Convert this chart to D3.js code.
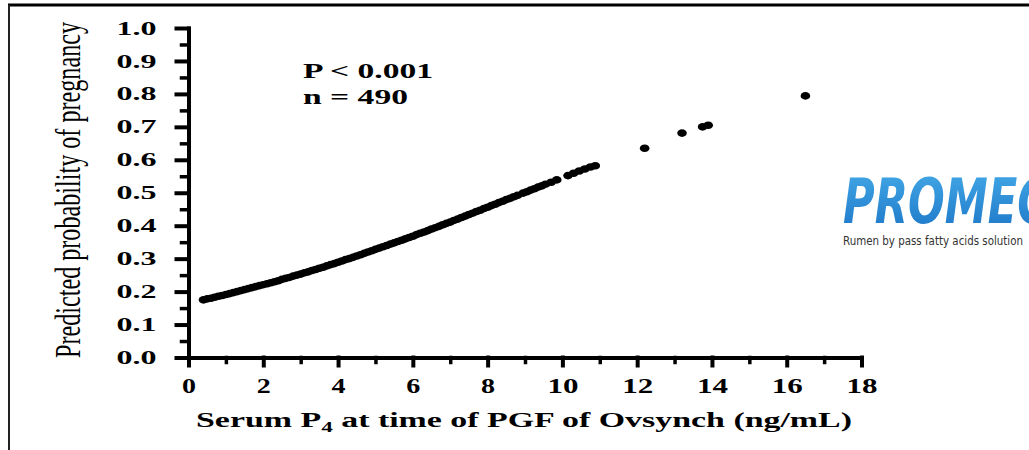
<!DOCTYPE html>
<html>
<head>
<meta charset="utf-8">
<script src="https://cdn.jsdelivr.net/npm/d3@7"></script>
<style>
  body { margin: 0; background: #fff; }
  svg { display: block; }
  .serif { font-family: "Liberation Serif", "Times New Roman", Tinos, serif; }
</style>
</head>
<body>
<div id="chart"></div>
<script>
// Data
const serumP4 = [
  0.4, 0.5, 0.6, 0.7, 0.8, 0.9, 1.0, 1.1, 1.2, 1.3, 1.4, 1.5, 1.6, 1.7, 1.8, 1.9,
  2.0, 2.1, 2.2, 2.3, 2.4, 2.5, 2.6, 2.7, 2.8, 2.9, 3.0, 3.1, 3.2, 3.3, 3.4, 3.5,
  3.6, 3.7, 3.8, 3.9, 4.0, 4.1, 4.2, 4.3, 4.4, 4.5, 4.6, 4.7, 4.8, 4.9, 5.0, 5.1,
  5.2, 5.3, 5.4, 5.5, 5.6, 5.7, 5.8, 5.9, 6.0, 6.1, 6.2, 6.3, 6.4, 6.5, 6.6, 6.7,
  6.8, 6.9, 7.0, 7.1, 7.2, 7.3, 7.4, 7.5, 7.6, 7.7, 7.8, 7.9, 8.0, 8.1, 8.2, 8.3,
  8.4, 8.5, 8.6, 8.7, 8.8,
  8.95, 9.05, 9.15, 9.25, 9.35, 9.45, 9.55, 9.7, 9.85,
  10.15, 10.3, 10.45, 10.6, 10.75, 10.88,
  12.2, 13.2, 13.75, 13.9, 16.5
];
const probPregnancy = [
  0.175, 0.178, 0.180, 0.183, 0.186, 0.188, 0.191, 0.194, 0.197, 0.200, 0.203, 0.206, 0.209, 0.212, 0.215, 0.218,
  0.221, 0.224, 0.227, 0.230, 0.233, 0.237, 0.240, 0.243, 0.247, 0.250, 0.253, 0.257, 0.260, 0.264, 0.267, 0.271,
  0.274, 0.278, 0.282, 0.285, 0.289, 0.293, 0.297, 0.300, 0.304, 0.308, 0.312, 0.316, 0.320, 0.324, 0.328, 0.332,
  0.336, 0.340, 0.344, 0.348, 0.352, 0.356, 0.360, 0.364, 0.368, 0.373, 0.377, 0.381, 0.385, 0.390, 0.394, 0.398,
  0.403, 0.407, 0.411, 0.416, 0.420, 0.425, 0.429, 0.434, 0.438, 0.443, 0.447, 0.452, 0.456, 0.461, 0.465, 0.470,
  0.474, 0.479, 0.483, 0.488, 0.492,
  0.499, 0.503, 0.508, 0.512, 0.517, 0.521, 0.526, 0.532, 0.539,
  0.552, 0.559, 0.566, 0.572, 0.578, 0.582,
  0.635, 0.681, 0.700, 0.705, 0.794
];
const xTicks = [0, 2, 4, 6, 8, 10, 12, 14, 16, 18];
const xMinorTicks = [1, 3, 5, 7, 9, 11, 13, 15, 17];
const yTicks = [0, 0.1, 0.2, 0.3, 0.4, 0.5, 0.6, 0.7, 0.8, 0.9, 1.0];
const yMinorTicks = [0.05, 0.15, 0.25, 0.35, 0.45, 0.55, 0.65, 0.75, 0.85, 0.95];
const statLines = ["P < 0.001", "n = 490"];

const W = 1029, H = 450;

const svg = d3.select("#chart")
  .append("svg")
    .attr("width", W)
    .attr("height", H);

// frame (only top and left edges show)
svg.append("line")
  .attr("x1", 8).attr("y1", 5).attr("x2", W).attr("y2", 5)
  .attr("stroke", "#000").attr("stroke-width", 3);
svg.append("line")
  .attr("x1", 9).attr("y1", 5).attr("x2", 9).attr("y2", H)
  .attr("stroke", "#222").attr("stroke-width", 2);

// Scales
const x = d3.scaleLinear().domain([0, 18]).range([188.5, 861.5]);
const y = d3.scaleLinear().domain([0, 1]).range([357.5, 28]);

// heavy black axis strokes
const heavy = (g, w) => g.selectAll("line, path")
  .attr("stroke", "#000")
  .attr("stroke-width", w)
  .attr("stroke-linecap", "square");

// Axes
const xAxisG = svg.append("g")
  .attr("transform", `translate(0,${y(0)})`)
  .call(d3.axisBottom(x).tickValues(xTicks).tickSize(8).tickSizeOuter(0).tickFormat(d3.format("d")))
  .call(heavy, 4);
svg.append("g")
  .attr("transform", `translate(0,${y(0)})`)
  .call(d3.axisBottom(x).tickValues(xMinorTicks).tickSize(5).tickSizeOuter(0).tickFormat(""))
  .call(g => g.select(".domain").remove())
  .call(heavy, 3.5);

const yAxisG = svg.append("g")
  .attr("transform", `translate(${x(0)},0)`)
  .call(d3.axisLeft(y).tickValues(yTicks).tickSize(12).tickSizeOuter(0).tickPadding(20).tickFormat(d3.format(".1f")))
  .call(heavy, 4);
svg.append("g")
  .attr("transform", `translate(${x(0)},0)`)
  .call(d3.axisLeft(y).tickValues(yMinorTicks).tickSize(7).tickSizeOuter(0).tickFormat(""))
  .call(g => g.select(".domain").remove())
  .call(heavy, 3.5);

xAxisG.selectAll("text")
  .attr("class", "serif")
  .attr("y", 35).attr("dy", null)
  .attr("font-family", null)
  .style("font-weight", "bold").style("font-size", "20px")
  .attr("fill", "#000")
  .attr("textLength", d => d >= 10 ? 31 : 14)
  .attr("lengthAdjust", "spacingAndGlyphs");

yAxisG.selectAll("text")
  .attr("class", "serif")
  .attr("font-family", null)
  .style("font-weight", "bold").style("font-size", "19px")
  .attr("fill", "#000")
  .attr("textLength", 40)
  .attr("lengthAdjust", "spacingAndGlyphs");

// Axis titles
const xTitle = svg.append("text")
  .attr("class", "serif")
  .attr("x", 196).attr("y", 427)
  .style("font-weight", "bold").style("font-size", "22px")
  .attr("fill", "#000")
  .attr("textLength", 656)
  .attr("lengthAdjust", "spacingAndGlyphs");
xTitle.append("tspan").text("Serum P");
xTitle.append("tspan").attr("dy", 5).style("font-size", "15px").text("4");
xTitle.append("tspan").attr("dy", -5).text(" at time of PGF of Ovsynch (ng/mL)");

svg.append("text")
  .attr("class", "serif")
  .attr("transform", "translate(80,190) rotate(-90) scale(1,1.45)")
  .attr("text-anchor", "middle")
  .style("font-size", "24px")
  .attr("fill", "#000")
  .attr("textLength", 336)
  .attr("lengthAdjust", "spacingAndGlyphs")
  .text("Predicted probability of pregnancy");

// Stats annotation
svg.selectAll("text.stat")
  .data(statLines)
  .enter().append("text")
    .attr("class", "stat serif")
    .attr("x", 303)
    .attr("y", (d, i) => 78 + i * 26)
    .style("font-weight", "bold").style("font-size", "20px")
    .attr("fill", "#000")
    .attr("textLength", (d, i) => i === 0 ? 130 : 105)
    .attr("lengthAdjust", "spacingAndGlyphs")
    .text(d => d);

// Points
const pts = serumP4.map((v, i) => ({ x: v, p: probPregnancy[i] }));
svg.selectAll("ellipse.pt")
  .data(pts)
  .enter().append("ellipse")
    .attr("class", "pt")
    .attr("cx", d => x(d.x))
    .attr("cy", d => y(d.p))
    .attr("rx", 4.8)
    .attr("ry", 3.8)
    .attr("fill", "#000");

// Watermark logo (cut at the right edge)
const grad = svg.append("defs").append("linearGradient")
  .attr("id", "logoGrad")
  .attr("x1", 0).attr("y1", 0).attr("x2", 0).attr("y2", 1);
grad.append("stop").attr("offset", "0%").attr("stop-color", "#45abe8");
grad.append("stop").attr("offset", "100%").attr("stop-color", "#1b74c6");

svg.append("text")
  .attr("x", 843).attr("y", 223)
  .style("font-family", "'Liberation Sans Narrow', 'DejaVu Sans Condensed', sans-serif")
  .style("font-weight", "bold").style("font-style", "italic")
  .style("font-size", "63px")
  .attr("fill", "url(#logoGrad)")
  .attr("textLength", 206)
  .attr("lengthAdjust", "spacingAndGlyphs")
  .text("PROMEC");

svg.append("text")
  .attr("x", 843).attr("y", 245)
  .style("font-family", "'DejaVu Sans', sans-serif")
  .style("font-size", "12px")
  .attr("fill", "#333")
  .attr("textLength", 180)
  .attr("lengthAdjust", "spacingAndGlyphs")
  .text("Rumen by pass fatty acids solution");
</script>
</body>
</html>
